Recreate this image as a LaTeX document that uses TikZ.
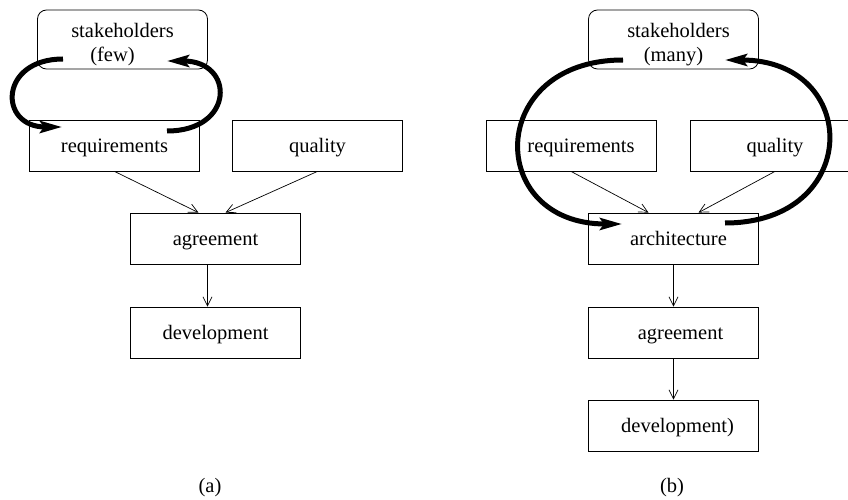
\documentclass[tikz,border=0pt]{standalone}
\usepackage{fontspec}
\setmainfont{Liberation Serif}
\usetikzlibrary{arrows.meta}

\begin{document}
\begin{tikzpicture}[x=1pt, y=-1pt,
    frame/.style={draw, line width=0.8pt, minimum width=170pt, minimum height=51pt,
        inner sep=0pt, font=\fontsize{20.5}{24}\selectfont},
    box/.style={frame, text height=14pt, text depth=0pt},
    stake/.style={frame, rounded corners=9pt, minimum height=59pt, align=center},
    flow/.style={line width=0.7pt, -{Straight Barb[length=9pt, width=9pt]}},
    feedback/.style={line width=5pt, -{Stealth[length=22pt, width=12pt, inset=4pt]}},
    caption/.style={font=\fontsize{20.5}{24}\selectfont}]
    \useasboundingbox (0,0) rectangle (848,500);

    % 1. Left diagram (a)
    \node[stake] (sta) at (122.5,39.5) {\rule{0pt}{24pt}stakeholders\\(few)\hspace*{20pt}};
    \node[box] (req) at (114.5,145.5) {requirements};
    \node[box] (qua) at (317.5,145.5) {quality};
    \node[box] (agr) at (215.5,238.5) {agreement};
    \node[box] (dev) at (215.5,332.5) {development};
    \node[caption] (capa) at (210,488) {(a)};

    \draw[flow] (req.south) -- ([xshift=-17pt]agr.north);
    \draw[flow] (qua.south) -- ([xshift=10pt]agr.north);
    \draw[flow] ([xshift=-8pt]agr.south) -- ([xshift=-8pt]dev.north);

    \coordinate (fewout) at (63,59);
    \coordinate (fewin) at (62,127);
    \coordinate (reqout) at (167,131);
    \coordinate (reqin) at (167,61);
    \draw[feedback] (fewout) .. controls +(-64,0) and +(-64,0) .. (fewin);
    \draw[feedback] (reqout) .. controls +(68,0) and +(68,0) .. (reqin);

    % 2. Right diagram (b)
    \node[stake] (stb) at (673.5,39.5) {\rule{0pt}{24pt}\hspace*{10pt}stakeholders\\(many)};
    \node[box] (reqb) at (571,145.5) {\hspace*{20pt}requirements};
    \node[box] (quab) at (775,145.5) {quality};
    \node[box] (arcb) at (673.5,238.5) {\hspace*{10pt}architecture};
    \node[box] (agrb) at (673.5,332.5) {\hspace*{14pt}agreement};
    \node[box] (devb) at (673.5,425.5) {\hspace*{8pt}development)};
    \node[caption] (capb) at (672,488) {(b)};

    \draw[flow] (reqb.south) -- ([xshift=-25pt]arcb.north);
    \draw[flow] (quab.south) -- ([xshift=25pt]arcb.north);
    \draw[flow] (arcb.south) -- (agrb.north);
    \draw[flow] (agrb.south) -- (devb.north);

    \coordinate (manyout) at (623,60);
    \coordinate (manyin) at (622,224);
    \coordinate (arcout) at (725,223);
    \coordinate (arcin) at (725,60);
    \draw[feedback] (manyout) .. controls +(-137,0) and +(-137,0) .. (manyin);
    \draw[feedback] (arcout) .. controls +(137,0) and +(137,0) .. (arcin);
\end{tikzpicture}
\end{document}
